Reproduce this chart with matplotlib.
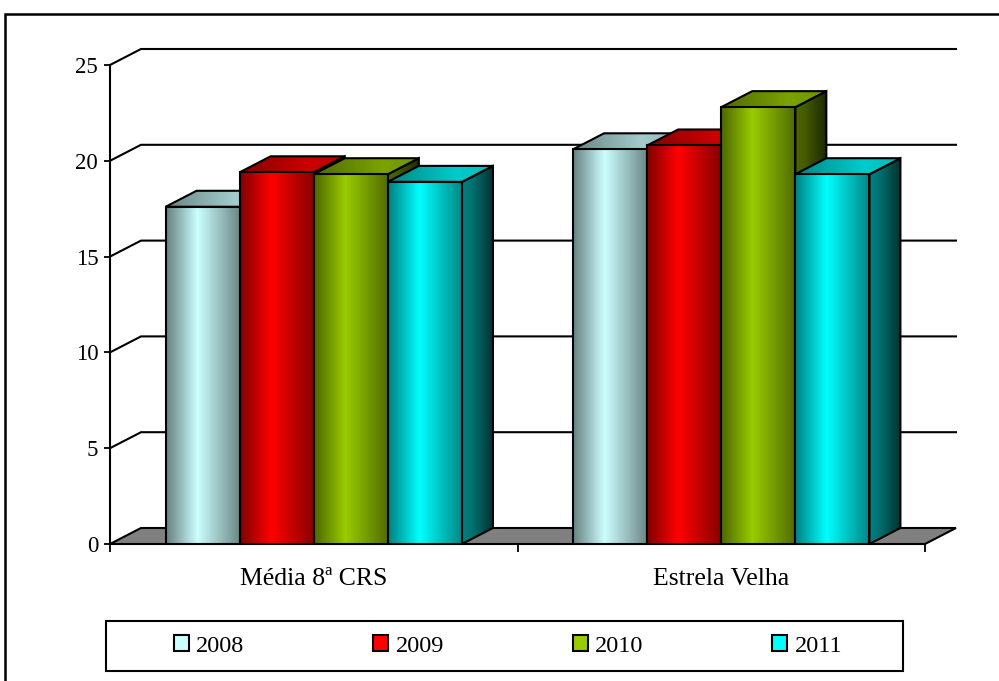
import numpy as np
import matplotlib
matplotlib.use("Agg")
import matplotlib.pyplot as plt
from matplotlib.patches import Polygon, Rectangle, Patch
from matplotlib.colors import to_rgb

# ---- data -------------------------------------------------------------
categories = ["Média 8ª CRS", "Estrela Velha"]
years = ["2008", "2009", "2010", "2011"]
values_2008 = [17.6, 20.6]
values_2009 = [19.4, 20.8]
values_2010 = [19.3, 22.8]
values_2011 = [18.9, 19.3]
y_ticks = [0, 5, 10, 15, 20, 25]
series_colors = ["#CCFFFF", "#FF0000", "#99CC00", "#00FFFF"]

series_values = [values_2008, values_2009, values_2010, values_2011]

# ---- figure / axes ----------------------------------------------------
W, H, DPI = 999, 681, 100
FONT = ["Liberation Serif", "DejaVu Serif"]
fig = plt.figure(figsize=(W / DPI, H / DPI), dpi=DPI)
ax = fig.add_axes([110 / W, 1 - 544 / H, 815 / W, 479 / H])
ax.set_xlim(0, len(categories))
ax.set_ylim(0, 25)

# depth offset of the 3-D box, in data units
DX = 31 / 815 * len(categories)
DY = 16 / 479 * 25

LW = 1.5
n_series = len(series_values)
gap = 1.5
bar_w = 1.0 / (n_series + gap)


def shade_profile(n, left, peak, right, peak_pos):
    t = np.linspace(0, 1, n)
    return np.where(t < peak_pos,
                    left + (peak - left) * t / peak_pos,
                    peak + (right - peak) * (t - peak_pos) / (1 - peak_pos))


def gradient_face(verts, color, profile, z):
    verts = np.asarray(verts)
    x0, x1 = verts[:, 0].min(), verts[:, 0].max()
    y0, y1 = verts[:, 1].min(), verts[:, 1].max()
    rgb = np.array(to_rgb(color))
    img = (profile[:, None] * rgb[None, :])[None, :, :]
    img = np.clip(img, 0, 1)
    poly = Polygon(verts, closed=True, transform=ax.transData)
    im = ax.imshow(img, extent=[x0, x1, y0, y1], aspect="auto",
                   interpolation="bilinear", origin="lower", zorder=z)
    im.set_clip_path(poly)
    ax.add_patch(Polygon(verts, closed=True, fill=False, edgecolor="black",
                         lw=LW, zorder=z + 0.01, joinstyle="miter"))


# floor
x_end = len(categories)
ax.add_patch(Polygon([(0, 0), (x_end, 0), (x_end + DX, DY), (DX, DY)],
                     closed=True, facecolor="#808080", edgecolor="black",
                     lw=LW, zorder=1, clip_on=False))

# gridlines on the side and back walls
for v in y_ticks[1:]:
    ax.plot([0, DX, x_end + DX], [v, v + DY, v + DY], color="black",
            lw=LW, zorder=1.2, clip_on=False, solid_joinstyle="miter")

# bars
front_prof = shade_profile(256, 0.5, 1.0, 0.52, 0.42)
top_prof = shade_profile(256, 0.52, 0.8, 0.72, 0.65)
side_prof = shade_profile(256, 0.5, 0.45, 0.2, 0.3)

z = 2.0
for ci in range(len(categories)):
    start = ci + 0.5 - n_series * bar_w / 2
    for si in range(n_series):
        h = series_values[si][ci]
        col = series_colors[si]
        xl = start + si * bar_w
        xr = xl + bar_w
        side = [(xr, 0), (xr + DX, DY), (xr + DX, h + DY), (xr, h)]
        top = [(xl, h), (xr, h), (xr + DX, h + DY), (xl + DX, h + DY)]
        front = [(xl, 0), (xr, 0), (xr, h), (xl, h)]
        gradient_face(side, col, side_prof, z)
        gradient_face(top, col, top_prof, z + 0.02)
        gradient_face(front, col, front_prof, z + 0.04)
        z += 0.1

ax.set_xlim(0, x_end)
ax.set_ylim(0, 25)

# axes styling
for s in ["top", "right", "bottom"]:
    ax.spines[s].set_visible(False)
ax.spines["left"].set_linewidth(LW)
ax.spines["left"].set_zorder(1.3)

ax.set_yticks(y_ticks)
ax.set_yticklabels([str(v) for v in y_ticks], fontfamily=FONT, fontsize=16.5)
ax.tick_params(axis="y", direction="out", length=4.5, width=1.3, pad=4)

ax.set_xticks(range(len(categories) + 1))
ax.set_xticklabels([])
ax.tick_params(axis="x", which="major", direction="out", length=5.5, width=1.3)
ax.set_xticks([i + 0.5 for i in range(len(categories))], minor=True)
ax.set_xticklabels(categories, minor=True, fontfamily=FONT, fontsize=18.5)
ax.tick_params(axis="x", which="minor", length=0, pad=17.5)

# legend
handles = [Patch(facecolor=c, edgecolor="black", lw=LW) for c in series_colors]
fig.legend(handles, years, loc="center", bbox_to_anchor=(508 / W, 1 - 646 / H),
           ncol=4, frameon=False, prop={"family": FONT, "size": 17.5},
           handlelength=0.62, handleheight=0.6, handletextpad=0.3,
           columnspacing=5.3)
fig.add_artist(Rectangle((106 / W, 1 - 671 / H), 797 / W, 50 / H,
                         transform=fig.transFigure, fill=False,
                         edgecolor="black", lw=LW))

# outer chart border
fig.add_artist(Rectangle((5 / W, -0.2), 1.5, 1.2 - 14 / H,
                         transform=fig.transFigure, fill=False,
                         edgecolor="black", lw=1.8, clip_on=False))

fig.savefig("out.png", dpi=DPI)
